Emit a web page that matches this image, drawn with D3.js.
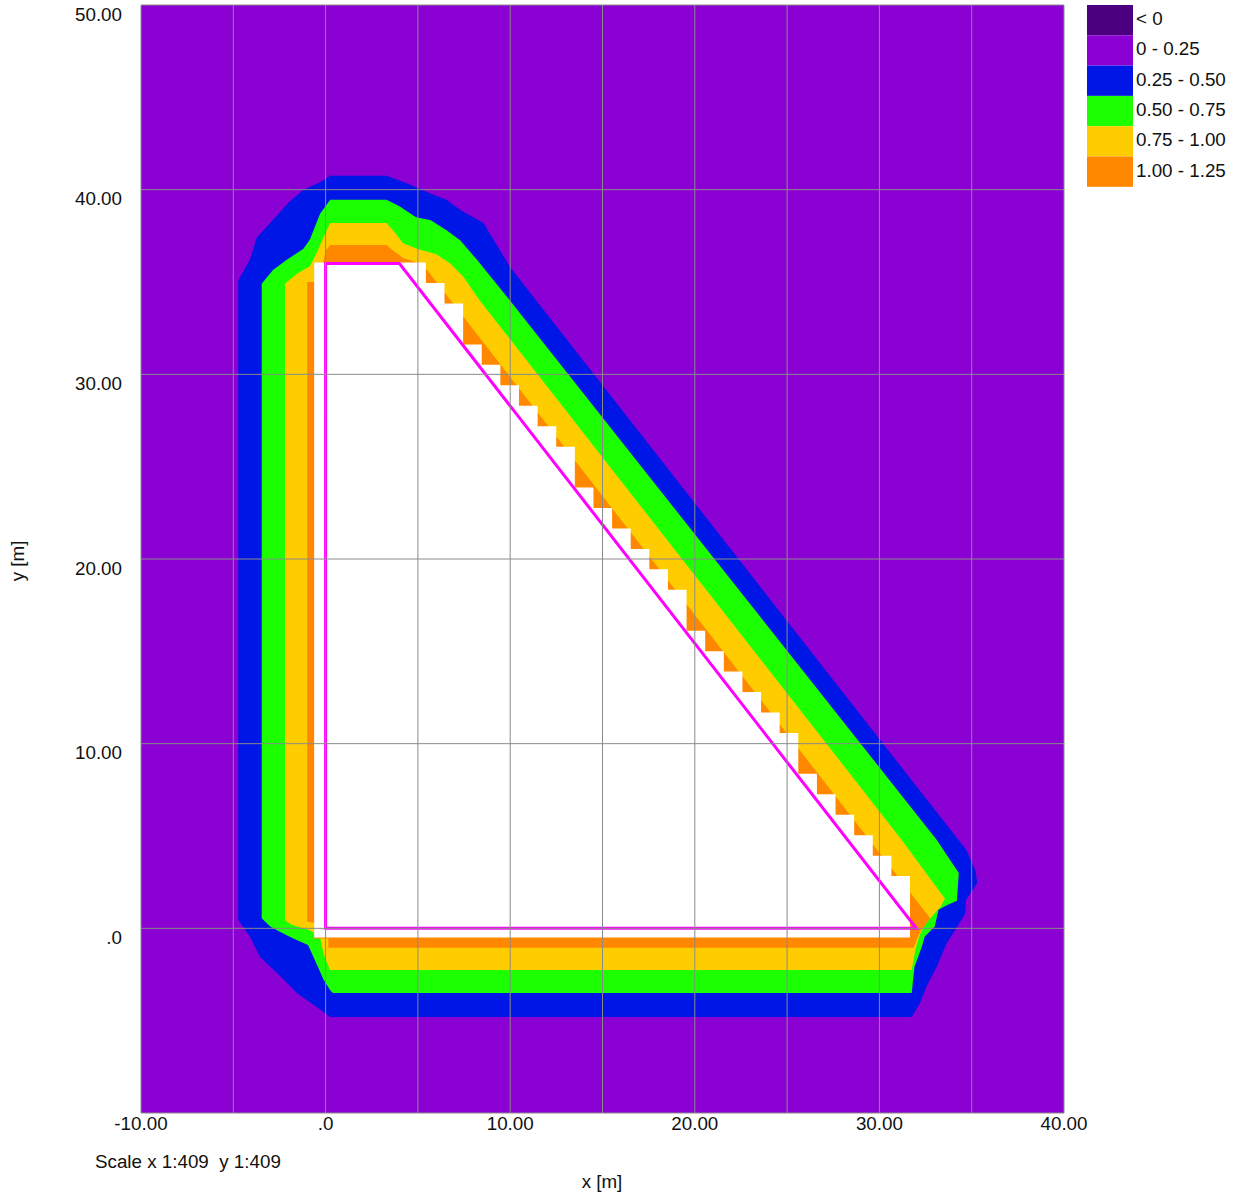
<!DOCTYPE html>
<html>
<head>
<meta charset="utf-8">
<script src="https://cdn.jsdelivr.net/npm/d3@7"></script>
<style>
  body { margin: 0; background: #fff; }
  svg text { font-family: "Liberation Sans", Arial, sans-serif; fill: #111; }
</style>
</head>
<body>
<svg id="chart" width="1234" height="1195"></svg>
<script>
// axes / ticks
const xTicks = [-10, 0, 10, 20, 30, 40];
const xTickLabels = ["-10.00", ".0", "10.00", "20.00", "30.00", "40.00"];
const yTicks = [0, 10, 20, 30, 40, 50];
const yTickLabels = [".0", "10.00", "20.00", "30.00", "40.00", "50.00"];
const xGrid = [-10, -5, 0, 5, 10, 15, 20, 25, 30, 35, 40];
const yGrid = [-10, 0, 10, 20, 30, 40, 50];

// legend classes
const legendLabels = ["< 0", "0 - 0.25", "0.25 - 0.50", "0.50 - 0.75", "0.75 - 1.00", "1.00 - 1.25"];
const legendColors = ["#4b0080", "#8b00d3", "#0016e6", "#1cff00", "#ffcc00", "#ff8800"];

// contour outlines [x m, y m]
const contour025 = [[-4.73,0.45],[-4.73,35.1],[-4.1,36.2],[-3.73,37.4],[-3.0,38.2],[-2.0,39.3],[-1.2,40.0],
  [-0.3,40.4],[0.25,40.75],[3.3,40.75],[4.4,40.35],[5.65,39.8],[6.55,39.45],[7.3,38.9],[8.55,38.2],[10.0,35.8],
  [34.7,4.25],[35.2,3.15],[35.3,2.45],[34.7,1.55],[34.65,0.8],[34.1,-0.1],[33.65,-0.8],[33.1,-2.1],[32.55,-3.15],
  [32.2,-4.05],[31.75,-4.8],[0.25,-4.8],[-0.5,-4.25],[-1.55,-3.5],[-2.45,-2.6],[-3.55,-1.55],[-4.1,-0.45]];
const contour050 = [[-3.46,0.55],[-3.46,34.9],[-2.85,35.65],[-2.1,36.2],[-1.2,36.8],[-0.85,37.3],[-0.3,38.7],
  [0.25,39.45],[3.3,39.45],[4.0,39.1],[4.9,38.5],[5.7,38.35],[6.55,37.8],[7.3,37.25],[8.2,36.2],[9.9,34.1],
  [33.1,4.8],[34.3,3.0],[34.2,1.5],[33.65,1.25],[33.2,1.0],[33.0,0.1],[32.45,-0.45],[32.3,-1.0],[31.9,-2.1],
  [31.75,-3.5],[0.4,-3.5],[0.25,-3.35],[-0.1,-2.8],[-0.5,-1.9],[-0.95,-0.9],[-1.75,-0.55],[-2.45,-0.2],[-3.0,0.1]];
const contour075 = [[-2.2,0.45],[-2.2,34.9],[-1.55,35.45],[-0.85,35.85],[-0.4,36.75],[-0.1,37.45],[0.25,38.2],
  [3.3,38.2],[3.65,37.8],[4.2,37.1],[4.95,36.8],[6.0,36.5],[6.75,36.0],[7.45,35.3],[8.35,34.0],[31.2,4.8],
  [33.55,1.6],[33.3,1.15],[32.75,0.55],[32.4,0.1],[32.15,-0.45],[31.95,-1.15],[31.75,-2.25],[0.25,-2.25],
  [0.0,-1.7],[-0.2,-1.0],[-0.3,-0.45],[-0.85,-0.1],[-1.85,0.2]];
const contour100 = [[-1.0,0.35],[-1.0,35.0],[-0.61,35.0],[-0.61,36.0],[-0.14,36.0],[0.02,36.73],[0.25,37.0],
  [3.3,37.0],[3.6,36.75],[4.2,36.3],[5.1,36.0],[5.5,35.65],[32.75,0.55],[32.2,-0.2],[31.85,-1.05],
  [0.15,-1.05],[0.15,-0.55],[-0.62,-0.55],[-0.62,0.3]];

// blank cells: grid origin / cell size, and last filled column per row (top row first)
const cellX0 = -0.62, cellY0 = 36.05, cellW = 1.0087, cellH = 1.1074;
const rowLastCol = [6,7,8,8,9,10,11,12,13,14,14,15,16,17,18,19,20,20,21,22,23,24,25,26,26,27,28,29,30,31,32,32,32];

// building outline
const outline = [[0,0],[0,36],[4,36],[32,0]];

const svg = d3.select("#chart");
const x = d3.scaleLinear().domain([-10, 40]).range([141, 1064]);
const y = d3.scaleLinear().domain([-10, 50]).range([1113, 5]);

const line = d3.line().x(d => x(d[0])).y(d => y(d[1]));

svg.append("rect")
  .attr("x", x(-10)).attr("y", y(50))
  .attr("width", x(40) - x(-10)).attr("height", y(-10) - y(50))
  .attr("fill", legendColors[1]);

const bands = [contour025, contour050, contour075, contour100];
svg.append("g").selectAll("path")
  .data(bands)
  .enter()
  .append("path")
  .attr("d", d => line(d) + "Z")
  .attr("fill", (d, i) => legendColors[i + 2]);

// staircase of blank cells
const stair = [[cellX0, cellY0]];
rowLastCol.forEach(function(c, r) {
  stair.push([cellX0 + c * cellW, cellY0 - r * cellH]);
  stair.push([cellX0 + c * cellW, cellY0 - (r + 1) * cellH]);
});
stair.push([cellX0, cellY0 - rowLastCol.length * cellH]);
svg.append("path")
  .attr("d", line(stair) + "Z")
  .attr("fill", "#fff");

svg.append("path")
  .attr("d", line(outline) + "Z")
  .attr("fill", "none")
  .attr("stroke", "#ff00ff")
  .attr("stroke-width", 3);

// grid
const grid = svg.append("g").attr("stroke", "#8a8a8a").attr("stroke-width", 1);
grid.selectAll(".vg").data(xGrid).enter().append("line")
  .attr("x1", d => x(d)).attr("x2", d => x(d))
  .attr("y1", y(50)).attr("y2", y(-10));
grid.selectAll(".hg").data(yGrid).enter().append("line")
  .attr("x1", x(-10)).attr("x2", x(40))
  .attr("y1", d => y(d)).attr("y2", d => y(d));

// tick labels
svg.append("g").selectAll("text")
  .data(xTicks)
  .enter().append("text")
  .attr("x", d => x(d)).attr("y", 1130)
  .attr("text-anchor", "middle")
  .style("font-size", "18.8px")
  .text((d, i) => xTickLabels[i]);

svg.append("g").selectAll("text")
  .data(yTicks)
  .enter().append("text")
  .attr("x", 122).attr("y", d => y(d) + 15.5)
  .attr("text-anchor", "end")
  .style("font-size", "18.8px")
  .text((d, i) => yTickLabels[i]);

svg.append("text").attr("x", 602).attr("y", 1188)
  .attr("text-anchor", "middle").style("font-size", "18.8px").text("x [m]");
svg.append("text")
  .attr("transform", "translate(24,561) rotate(-90)")
  .attr("text-anchor", "middle").style("font-size", "18.8px").text("y [m]");
svg.append("text").attr("x", 95).attr("y", 1168)
  .style("font-size", "18.8px").text("Scale x 1:409  y 1:409")
  .attr("xml:space", "preserve");

// legend
const lg = svg.append("g").attr("transform", "translate(1087,5)");
lg.selectAll("rect").data(legendColors).enter().append("rect")
  .attr("x", 0).attr("y", (d, i) => i * 30.3)
  .attr("width", 46).attr("height", 30.3)
  .attr("fill", d => d);
lg.selectAll("text").data(legendLabels).enter().append("text")
  .attr("x", 49).attr("y", (d, i) => i * 30.3 + 20)
  .style("font-size", "18.8px")
  .text(d => d);
</script>
</body>
</html>
